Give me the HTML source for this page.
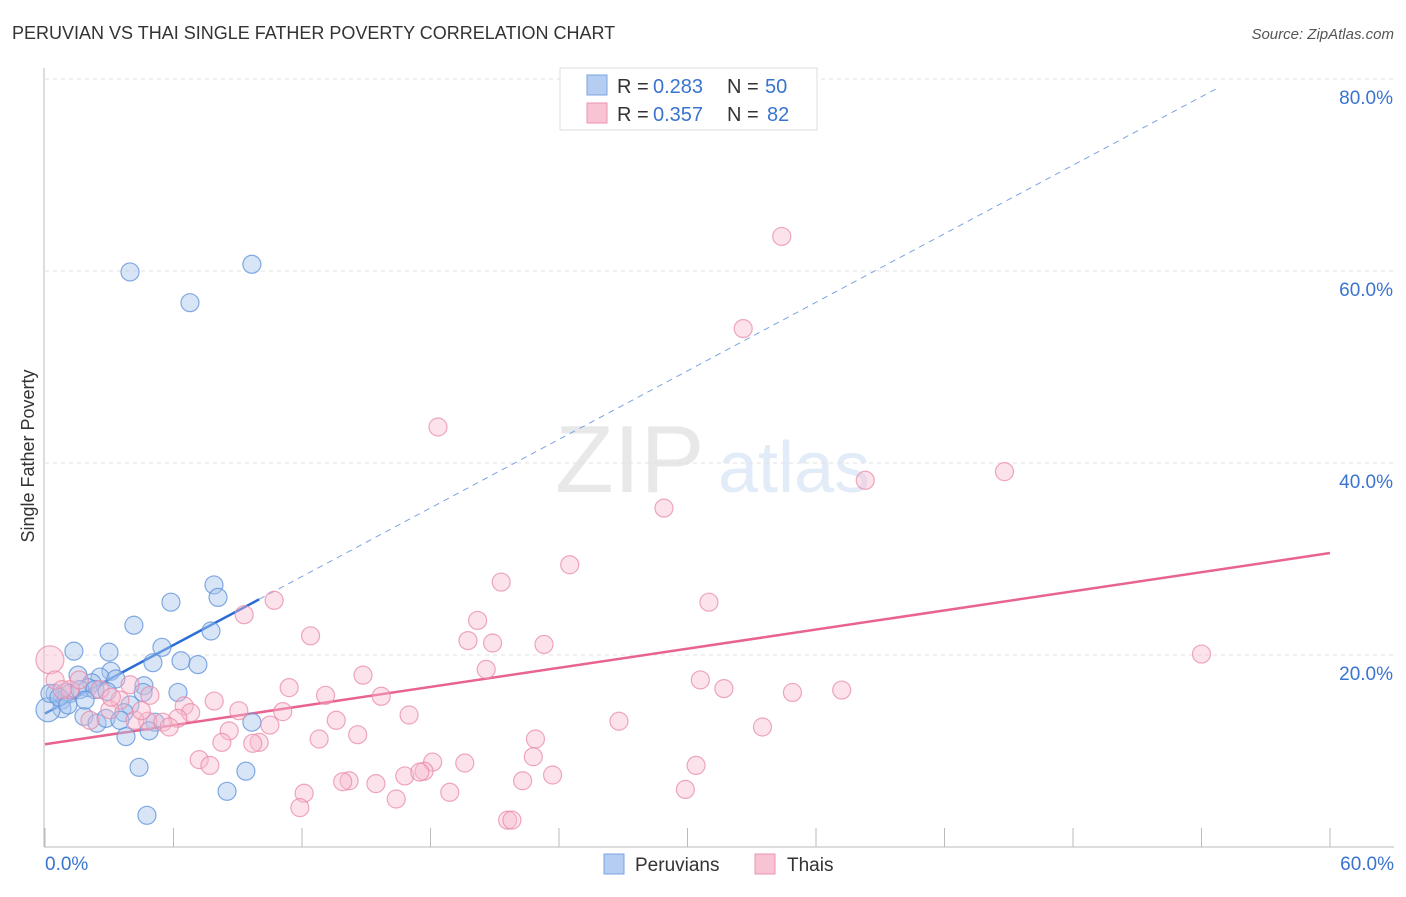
<!DOCTYPE html>
<html><head><meta charset="utf-8"><style>
body{margin:0;background:#fff;font-family:"Liberation Sans",sans-serif;}
svg text{font-family:"Liberation Sans",sans-serif;}
</style></head><body>
<svg id="chart" width="1406" height="892" viewBox="0 0 1406 892" xmlns="http://www.w3.org/2000/svg">
<text x="12" y="39" font-size="18" fill="#333">PERUVIAN VS THAI SINGLE FATHER POVERTY CORRELATION CHART</text>
<text x="1394" y="39" font-size="15" fill="#555" text-anchor="end" font-style="italic">Source: ZipAtlas.com</text>
<g opacity="0.22">
<text x="555" y="492" font-size="96" font-family="Liberation Serif" fill="#999">ZIP</text>
<text x="718" y="492" font-size="72" fill="#7fa6e0">atlas</text>
</g>
<g id="grid"></g>
<g id="axes"></g>
<g id="lines"></g>
<g id="pts"></g>
<text transform="translate(34,456) rotate(-90)" font-size="18" fill="#333" text-anchor="middle">Single Father Poverty</text>
<g>
<rect x="560" y="68" width="257" height="62" fill="#fff" stroke="#ddd"/>
<rect x="587" y="75" width="20" height="20" fill="#b4cdf1" stroke="#7aa3e0"/>
<rect x="587" y="103" width="20" height="20" fill="#f8c4d3" stroke="#ec93b0"/>
<text x="617" y="93" font-size="20" fill="#333">R =</text>
<text x="653" y="93" font-size="20" fill="#3a74d0">0.283</text>
<text x="727" y="93" font-size="20" fill="#333">N =</text>
<text x="765" y="93" font-size="20" fill="#3a74d0">50</text>
<text x="617" y="121" font-size="20" fill="#333">R =</text>
<text x="653" y="121" font-size="20" fill="#3a74d0">0.357</text>
<text x="727" y="121" font-size="20" fill="#333">N =</text>
<text x="767" y="121" font-size="20" fill="#3a74d0">82</text>
</g>
<g>
<rect x="604" y="854" width="20" height="20" fill="#b4cdf1" stroke="#7aa3e0"/>
<text x="635" y="871" font-size="19" fill="#333">Peruvians</text>
<rect x="755" y="854" width="20" height="20" fill="#f8c4d3" stroke="#ec93b0"/>
<text x="787" y="871" font-size="19" fill="#333">Thais</text>
</g>
</svg>
<script>
const xTicks=[0,6,12,18,24,30,36,42,48,54,60];
const yTicks=[20,40,60,80];
const peruX=[3.97,9.66,6.77,7.89,8.08,5.88,4.15,7.75,5.46,1.35,2.99,6.35,7.14,5.04,3.08,1.54,4.62,2.57,3.31,2.19,6.21,0.47,0.93,0.79,2.01,4.58,3.97,3.69,1.82,0.79,2.43,2.85,3.5,5.14,9.66,4.86,3.78,4.39,9.38,8.5,4.76,0.14,0.23,1.17,1.63,0.65,2.33,1.87,1.07,2.9];
const peruY=[59.9,60.7,56.7,27.3,26.0,25.5,23.1,22.5,20.8,20.4,20.3,19.4,19.0,19.2,18.3,17.9,16.8,17.7,17.5,17.1,16.1,16.0,16.1,15.3,16.6,16.1,14.8,14.0,13.6,14.4,12.9,13.4,13.2,13.0,13.0,12.1,11.5,8.3,7.9,5.8,3.3,14.3,16.0,16.0,16.4,15.6,16.4,15.3,14.8,16.2];
const thaiX=[34.4,32.6,18.35,38.3,44.8,28.9,24.5,21.3,10.7,31.0,9.3,20.2,12.4,19.75,20.9,23.3,54.0,20.6,14.85,30.6,11.4,31.7,34.9,37.2,15.7,13.1,7.9,6.5,6.8,9.05,17.0,11.1,26.8,13.6,33.5,4.8,6.2,5.5,10.5,8.6,5.8,12.8,14.6,22.9,10.0,9.7,8.26,7.2,7.7,22.8,19.6,18.1,30.4,16.8,17.7,17.5,23.7,22.3,14.2,13.9,15.45,12.1,18.9,29.9,16.4,11.9,21.6,21.8,0.23,0.47,1.17,2.57,3.5,3.97,4.9,3.03,4.2,2.1,0.8,4.5,1.6,3.1];
const thaiY=[63.6,54.0,43.75,38.2,39.1,35.3,29.4,27.6,25.7,25.5,24.2,23.6,22.0,21.5,21.25,21.1,20.1,18.5,17.9,17.4,16.6,16.5,16.1,16.35,15.7,15.8,15.2,14.7,14.0,14.2,13.75,14.1,13.1,13.2,12.5,13.1,13.4,13.0,12.7,12.1,12.5,11.25,11.7,11.25,10.9,10.8,10.9,9.1,8.5,9.4,8.75,8.85,8.5,7.4,7.9,7.8,7.5,6.9,6.9,6.8,6.6,5.6,5.7,6.0,5.0,4.1,2.8,2.8,19.5,17.4,16.4,16.4,15.3,16.9,15.8,14.3,13.2,13.2,16.4,14.2,17.4,15.6];
const peruFit=[13.9,1.19];
const thaiFit=[10.7,0.332];
const NS="http://www.w3.org/2000/svg";
const X=v=>45+v*1285/60, Y=v=>847-v*9.6;
function mk(p,t,a){const e=document.createElementNS(NS,t);for(const k in a)e.setAttribute(k,a[k]);p.appendChild(e);return e;}
const grid=document.getElementById('grid'),axes=document.getElementById('axes');
yTicks.forEach(v=>{
 const l=mk(grid,'line',{x1:45,x2:1394,y1:Y(v),y2:Y(v),stroke:'#e2e2e2','stroke-dasharray':'4,4'});
 
 
 const t=mk(axes,'text',{x:1393,y:Y(v)+25,'font-size':19,fill:'#3a74d0','text-anchor':'end'});t.textContent=v.toFixed(1)+'%';
 
 
});
mk(axes,'line',{x1:44,x2:44,y1:68,y2:847,stroke:'#bbb'});
mk(axes,'line',{x1:44,x2:1394,y1:847,y2:847,stroke:'#bbb'});
xTicks.forEach(v=>{
 const l=mk(axes,'line',{x1:X(v),x2:X(v),y1:828,y2:847,stroke:'#bbb'});
 
 
});
[[0,'start',45],[60,'end',1394]].forEach(([v,a,px])=>{
 const t=mk(axes,'text',{x:px,y:870,'font-size':19,fill:'#3a74d0','text-anchor':a});t.textContent=v.toFixed(1)+'%';
 
 
});
const pts=document.getElementById('pts');
peruX.forEach((x,i)=>{
 const c=mk(pts,'circle',{cx:X(x),cy:Y(peruY[i]),r:(i==41?12:9),fill:'#a9c6ee','fill-opacity':0.45,stroke:'#5b8fd9','stroke-opacity':0.75,'stroke-width':1.2});
 
 
});
thaiX.forEach((x,i)=>{
 const c=mk(pts,'circle',{cx:X(x),cy:Y(thaiY[i]),r:(i==68?14:9),fill:'#f7b9cc','fill-opacity':0.4,stroke:'#e88aa8','stroke-opacity':0.75,'stroke-width':1.2});
 
 
});
const lines=document.getElementById('lines');
const d=mk(lines,'line',{x1:X(10),y1:Y(peruFit[0]+peruFit[1]*10),x2:X(54.7),y2:Y(peruFit[0]+peruFit[1]*54.7),stroke:'#7aa3e0','stroke-dasharray':'6,5'});


const b=mk(lines,'line',{x1:X(0),y1:Y(peruFit[0]),x2:X(10),y2:Y(peruFit[0]+peruFit[1]*10),stroke:'#2a6dd6','stroke-width':2.5});


const p=mk(lines,'line',{x1:X(0),y1:Y(thaiFit[0]),x2:X(60),y2:Y(thaiFit[0]+thaiFit[1]*60),stroke:'#e8648f','stroke-width':2.5});


</script>
</body></html>
